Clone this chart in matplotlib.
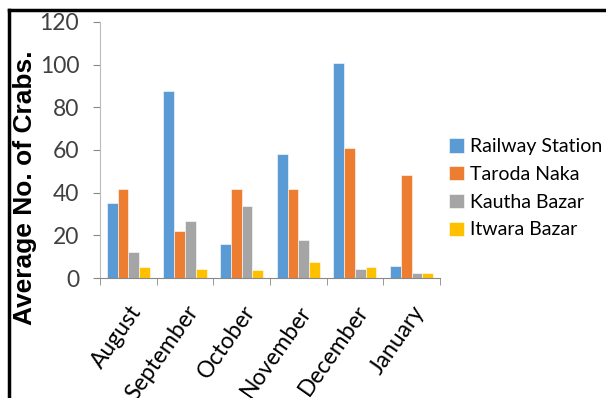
import numpy as np
import matplotlib
matplotlib.use('Agg')
import matplotlib.pyplot as plt
from matplotlib.lines import Line2D

months = ['August', 'September', 'October', 'November', 'December', 'January']
railway = [35, 87.4, 15.8, 57.9, 100.6, 5.6]
taroda = [41.5, 21.8, 41.5, 41.5, 60.8, 48.2]
kautha = [12, 26.7, 33.7, 17.8, 4.4, 2.5]
itwara = [5, 4.4, 3.7, 7.3, 5, 2.5]

series = [('Railway Station', railway, '#5B9BD5'),
          ('Taroda Naka', taroda, '#ED7D31'),
          ('Kautha Bazar', kautha, '#A5A5A5'),
          ('Itwara Bazar', itwara, '#FFC000')]

fig = plt.figure(figsize=(6.06, 3.98), dpi=100)
ax = fig.add_axes([0.165, 0.3015, 0.561, 0.6435])

x = np.arange(len(months))
w = 0.19
for i, (name, vals, col) in enumerate(series):
    ax.bar(x + (i - 1.5) * w, vals, w, color=col, label=name,
           edgecolor='white', linewidth=0.4)

ax.set_xlim(-0.5, len(months) - 0.5)
ax.set_ylim(0, 120)
ax.set_yticks(range(0, 121, 20))

tick_font = 'Lato'
ax.set_xticks(x)
ax.set_xticklabels(months, rotation=55, ha='right', rotation_mode='anchor',
                   fontsize=16.5, family=tick_font)
ax.tick_params(axis='x', length=0, pad=17)
ax.set_xticks(np.arange(-0.5, len(months) + 0.5), minor=True)
ax.tick_params(axis='x', which='minor', length=5, color='#888888')
ax.tick_params(axis='y', length=5, color='#888888', labelsize=16.5, pad=10)
for lab in ax.get_yticklabels():
    lab.set_family(tick_font)
    lab.set_color('#404040')

for s in ['top', 'right']:
    ax.spines[s].set_visible(False)
ax.spines['left'].set_color('#BBBBBB')
ax.spines['bottom'].set_color('#888888')

ax.set_ylabel('Average No. of Crabs.', fontsize=19, fontweight='bold',
              family='Liberation Sans')
ax.yaxis.set_label_coords(-0.185, 0.354)

leg = ax.legend(loc='center left', bbox_to_anchor=(0.975, 0.35), frameon=False,
                prop={'family': tick_font, 'size': 14}, handlelength=0.75,
                handleheight=0.75, handletextpad=0.35, labelspacing=0.55)

# page border lines
fig.add_artist(Line2D([0.015, 1.0], [0.975, 0.975], color='black', lw=2.5))
fig.add_artist(Line2D([0.015, 0.015], [0.0, 0.975], color='black', lw=2.5))

fig.savefig('out.png', dpi=100)
